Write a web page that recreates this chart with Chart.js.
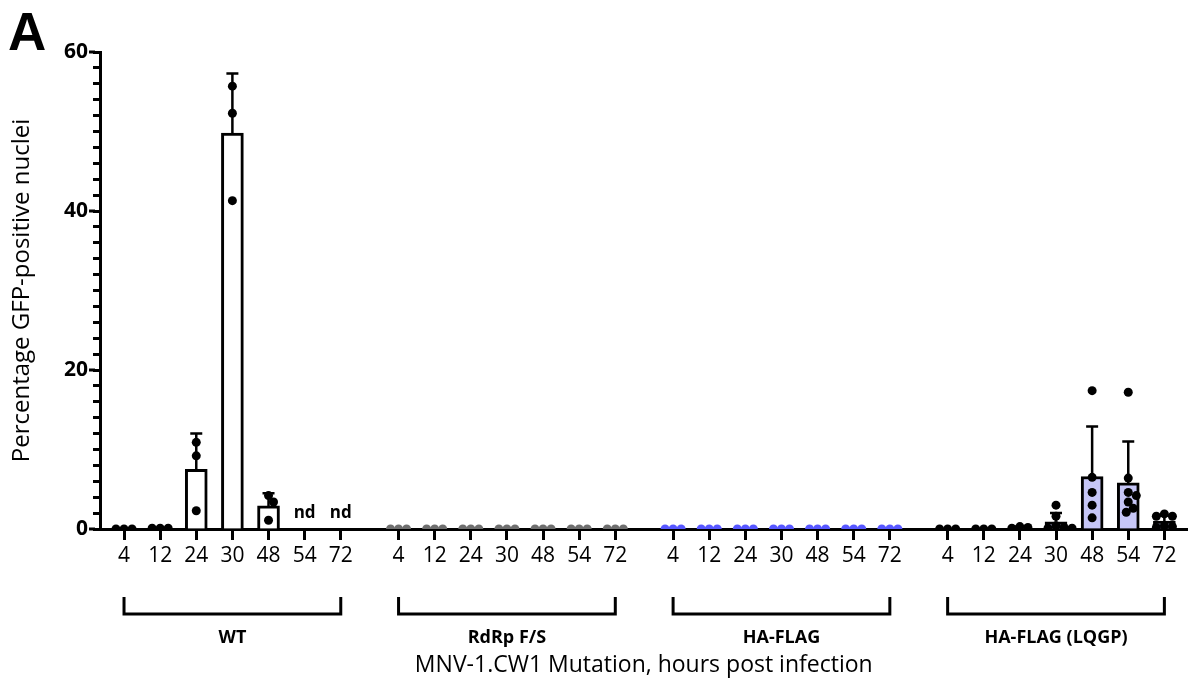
<!DOCTYPE html>
<html>
<head>
<meta charset="utf-8">
<script src="https://cdn.jsdelivr.net/npm/chart.js@4.4.1/dist/chart.umd.min.js"></script>
<style>
  html, body { margin: 0; padding: 0; background: #fff; }
  #wrap { width: 1192px; height: 686px; }
</style>
</head>
<body>
<div id="wrap"><canvas id="gfpChart" width="1192" height="686"></canvas></div>
<script>
const hours = ['4', '12', '24', '30', '48', '54', '72'];
const groups = ['WT', 'RdRp F/S', 'HA-FLAG', 'HA-FLAG (LQGP)'];
const yMajor = [0, 20, 40, 60];

// bar = mean, error bar = +SD ; null = not determined
const wtMean = [0, 0.1, 7.5, 49.8, 2.9, null, null];
const wtSD = [0, 0, 4.5, 7.5, 1.6, null, null];
const wtNd = ['', '', '', '', '', 'nd', 'nd'];
const lqgpMean = [0, 0, 0.2, 0.9, 6.6, 5.8, 1.0];
const lqgpSD = [0, 0, 0.1, 1.1, 6.3, 5.2, 0.7];

// replicate values per time point
const wtPts = [[0, 0, 0], [0.1, 0.1, 0.1], [10.9, 9.2, 2.3], [55.7, 52.3, 41.3], [4.2, 3.4, 1.1], [], []];
const rdrpPts = [[0, 0, 0], [0, 0, 0], [0, 0, 0], [0, 0, 0], [0, 0, 0], [0, 0, 0], [0, 0, 0]];
const haPts = [[0, 0, 0], [0, 0, 0], [0, 0, 0], [0, 0, 0], [0, 0, 0], [0, 0, 0], [0, 0, 0]];
const lqgpPts = [[0, 0, 0], [0, 0, 0], [0.3, 0.2, 0.1], [3.0, 1.6, 0.4, 0.2, 0.1, 0.1],
  [17.4, 6.5, 4.6, 3.0, 1.4], [17.2, 6.4, 4.6, 4.2, 3.4, 2.6, 2.1], [1.9, 1.6, 1.6, 0.4, 0.3, 0.2]];

const GROUP_STEP = 7.6;
const pos = (g, i) => g * GROUP_STEP + i;
const tickPositions = [];
groups.forEach((_, g) => hours.forEach((_, i) => tickPositions.push(pos(g, i))));

// simple beeswarm so overlapping dots spread sideways (approx px per unit)
function swarm(vals) {
  const PX_X = 36, PX_Y = 7.95, D = 8;
  const placed = [];
  return vals.map(v => {
    let dx = 0;
    for (let k = 0; k < 40; k++) {
      const c = k === 0 ? 0 : (k % 2 ? 1 : -1) * Math.ceil(k / 2);
      if (placed.every(p => Math.hypot(c - p.dx, (v - p.v) * PX_Y) >= D)) { dx = c; break; }
    }
    placed.push({ v, dx });
    return dx / PX_X;
  });
}
function dots(g, pts) {
  const out = [];
  pts.forEach((vals, i) => {
    const off = swarm(vals);
    vals.forEach((v, k) => out.push({ x: pos(g, i) + off[k], y: v }));
  });
  return out;
}
function bars(g, means) {
  return means.map((m, i) => ({ x: pos(g, i), y: m }));
}

const decorations = {
  id: 'decorations',
  afterDatasetDraw(chart, args) {
    if (args.meta.type !== 'bar') return;
    const { ctx, scales: { x, y } } = chart;
    const ds = chart.data.datasets[args.index];
    ctx.save();
    ctx.strokeStyle = '#000';
    ctx.lineWidth = 2.5;
    ds.data.forEach((d, k) => {
      if (d.y == null || !ds.sd[k]) return;
      const px = x.getPixelForValue(d.x);
      const top = y.getPixelForValue(d.y);
      const tip = y.getPixelForValue(d.y + ds.sd[k]);
      ctx.beginPath();
      ctx.moveTo(px, top); ctx.lineTo(px, tip);
      ctx.moveTo(px - 6, tip); ctx.lineTo(px + 6, tip);
      ctx.stroke();
    });
    ctx.restore();
  },
  afterDraw(chart) {
    const { ctx, scales: { x, y } } = chart;
    ctx.save();
    ctx.fillStyle = '#000';
    ctx.strokeStyle = '#000';
    // longer major ticks on y
    ctx.lineWidth = 3;
    yMajor.forEach(v => {
      const py = y.getPixelForValue(v);
      ctx.beginPath(); ctx.moveTo(y.right - 11, py); ctx.lineTo(y.right - 5, py); ctx.stroke();
    });
    // nd labels
    ctx.font = 'bold 17px "Open Sans"';
    ctx.textAlign = 'center';
    ctx.textBaseline = 'middle';
    wtNd.forEach((t, i) => { if (t) ctx.fillText(t, x.getPixelForValue(pos(0, i)), y.getPixelForValue(0) - 16); });
    // group brackets
    ctx.lineWidth = 3;
    ctx.lineJoin = 'miter';
    ctx.font = 'bold 18px "Open Sans"';
    groups.forEach((name, g) => {
      const x1 = x.getPixelForValue(pos(g, 0));
      const x2 = x.getPixelForValue(pos(g, hours.length - 1));
      ctx.beginPath();
      ctx.moveTo(x1, 597); ctx.lineTo(x1, 614); ctx.lineTo(x2, 614); ctx.lineTo(x2, 597);
      ctx.stroke();
      ctx.fillText(name, (x1 + x2) / 2, 638);
    });
    // panel letter
    ctx.font = 'bold 53px "Liberation Sans"';
    ctx.textAlign = 'left';
    ctx.textBaseline = 'alphabetic';
    ctx.fillText('A', 8, 50);
    ctx.restore();
  }
};

new Chart(document.getElementById('gfpChart'), {
  type: 'bar',
  data: {
    datasets: [
      { type: 'bar', data: bars(0, wtMean), sd: wtSD, backgroundColor: '#fff', borderColor: '#000', borderWidth: 3, barThickness: 22, grouped: false, order: 2 },
      { type: 'bar', data: bars(3, lqgpMean), sd: lqgpSD, backgroundColor: '#c6c6f7', borderColor: '#000', borderWidth: 3, barThickness: 22, grouped: false, order: 2 },
      { type: 'scatter', data: dots(0, wtPts), backgroundColor: '#000', borderWidth: 0, pointRadius: 4.5, order: 1 },
      { type: 'scatter', data: dots(1, rdrpPts), backgroundColor: '#6e6e6e', borderWidth: 0, pointRadius: 4.5, order: 1 },
      { type: 'scatter', data: dots(2, haPts), backgroundColor: '#5757ff', borderWidth: 0, pointRadius: 4.5, order: 1 },
      { type: 'scatter', data: dots(3, lqgpPts), backgroundColor: '#000', borderWidth: 0, pointRadius: 4.5, order: 1 }
    ]
  },
  options: {
    responsive: false,
    animation: false,
    layout: { padding: { top: 52, right: 4, left: 0, bottom: 0 } },
    plugins: { legend: { display: false }, tooltip: { enabled: false } },
    scales: {
      x: {
        type: 'linear',
        offset: false,
        min: -0.665,
        max: pos(3, 6) + 0.64,
        afterFit: s => { s.height = 157; },
        afterBuildTicks: s => { s.ticks = tickPositions.map(v => ({ value: v })); },
        grid: { offset: false, drawOnChartArea: false, drawTicks: true, tickLength: 11, tickWidth: 3, tickColor: '#000' },
        border: { color: '#000', width: 3 },
        ticks: {
          autoSkip: false, maxRotation: 0, padding: 3, color: '#000',
          font: { family: 'Open Sans', size: 21 },
          callback: (v, i) => hours[i % hours.length]
        },
        title: {
          display: true, text: 'MNV-1.CW1 Mutation, hours post infection', color: '#000',
          font: { family: 'Open Sans', size: 23 }, padding: { top: 0, bottom: 7 }
        }
      },
      y: {
        min: 0, max: 60,
        afterFit: s => { s.width = 100; },
        grid: { drawOnChartArea: false, drawTicks: true, tickLength: 7, tickWidth: 3, tickColor: '#000' },
        border: { color: '#000', width: 3 },
        ticks: {
          stepSize: 2, autoSkip: false, padding: 5, color: '#000',
          font: { family: 'Open Sans', size: 21, weight: 'bold' },
          callback: v => (yMajor.includes(v) ? v : '')
        },
        title: {
          display: true, text: 'Percentage GFP-positive nuclei', color: '#000',
          font: { family: 'Open Sans', size: 24 }, padding: { top: 8 }
        }
      }
    }
  },
  plugins: [decorations]
});
</script>
</body>
</html>
